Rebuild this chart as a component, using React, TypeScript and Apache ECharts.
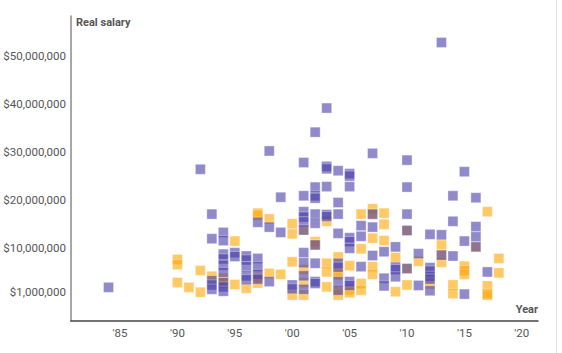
import React, { useEffect, useRef } from "react";
import * as echarts from "echarts";

// [year, real salary in millions of dollars]
const purplePoints: [number, number][] = [
  [1984, 1.9],
  [1992, 26.4],
  [1993, 17.1], [1993, 12.0], [1993, 3.3], [1993, 2.4], [1993, 1.5],
  [1994, 13.3], [1994, 11.6], [1994, 8.8], [1994, 7.8], [1994, 6.5], [1994, 5.0], [1994, 2.9], [1994, 2.0], [1994, 1.1],
  [1995, 9.1], [1995, 8.3],
  [1996, 8.4], [1996, 7.6], [1996, 6.2], [1996, 4.3], [1996, 3.5],
  [1997, 15.4], [1997, 7.9], [1997, 6.2], [1997, 4.6], [1997, 3.6],
  [1998, 30.2], [1998, 14.4], [1998, 3.1],
  [1999, 20.6], [1999, 13.3],
  [2000, 2.4], [2000, 1.6],
  [2001, 27.8], [2001, 20.9], [2001, 17.6], [2001, 16.5], [2001, 15.5], [2001, 13.8], [2001, 9.1], [2001, 7.0], [2001, 4.3], [2001, 1.5],
  [2002, 34.1], [2002, 22.7], [2002, 20.9], [2002, 20.4], [2002, 17.1], [2002, 15.2], [2002, 10.7], [2002, 6.9], [2002, 3.1], [2002, 2.7],
  [2003, 39.1], [2003, 27.0], [2003, 26.5], [2003, 22.8], [2003, 17.0], [2003, 16.6],
  [2004, 26.1], [2004, 19.5], [2004, 17.1], [2004, 13.1], [2004, 6.9], [2004, 6.1], [2004, 3.1], [2004, 1.3],
  [2005, 25.5], [2005, 25.0], [2005, 22.8], [2005, 12.2], [2005, 11.4], [2005, 10.0], [2005, 3.1], [2005, 2.3],
  [2006, 14.7], [2006, 12.5], [2006, 6.2],
  [2007, 29.7], [2007, 17.1], [2007, 14.4], [2007, 8.5],
  [2008, 9.3], [2008, 3.8], [2008, 2.2],
  [2009, 10.3], [2009, 6.1], [2009, 5.6], [2009, 4.1],
  [2010, 28.3], [2010, 22.7], [2010, 17.1], [2010, 13.7], [2010, 5.8],
  [2011, 8.9], [2011, 2.3],
  [2012, 12.9], [2012, 6.0], [2012, 5.3], [2012, 4.2], [2012, 3.6], [2012, 1.2],
  [2013, 52.7], [2013, 12.8], [2013, 8.6],
  [2014, 20.9], [2014, 15.6], [2014, 8.4],
  [2015, 25.9], [2015, 11.5], [2015, 0.5],
  [2016, 20.5], [2016, 14.5], [2016, 12.4], [2016, 10.3],
  [2017, 5.1],
];

const orangePoints: [number, number][] = [
  [1990, 7.7], [1990, 6.6], [1990, 2.9],
  [1991, 1.9],
  [1992, 5.4], [1992, 0.9],
  [1993, 4.2],
  [1994, 3.8], [1994, 2.9],
  [1995, 11.5], [1995, 2.5],
  [1996, 1.7],
  [1997, 17.3], [1997, 16.9], [1997, 4.0], [1997, 2.8],
  [1998, 16.1], [1998, 4.8],
  [1999, 4.6],
  [2000, 15.1], [2000, 13.0], [2000, 7.2], [2000, 0.3],
  [2001, 13.8], [2001, 5.6], [2001, 2.9], [2001, 0.3],
  [2002, 11.4], [2002, 10.7],
  [2003, 15.6], [2003, 6.9], [2003, 5.1], [2003, 2.0],
  [2004, 8.2], [2004, 5.1], [2004, 4.5], [2004, 1.3], [2004, 0.3],
  [2005, 6.4], [2005, 1.4], [2005, 0.8],
  [2006, 17.1], [2006, 9.9], [2006, 2.7], [2006, 1.3],
  [2007, 18.2], [2007, 17.0], [2007, 12.1], [2007, 6.2], [2007, 4.6],
  [2008, 17.3], [2008, 15.0], [2008, 11.6],
  [2009, 8.1], [2009, 1.0],
  [2010, 13.7], [2010, 5.8], [2010, 2.4],
  [2011, 7.3],
  [2012, 2.6],
  [2013, 10.7], [2013, 8.6], [2013, 7.1],
  [2014, 2.4], [2014, 0.6],
  [2015, 6.3], [2015, 5.4], [2015, 4.6],
  [2016, 10.3],
  [2017, 17.6], [2017, 2.2], [2017, 0.6], [2017, 0.3],
  [2018, 7.9], [2018, 4.9],
];

const xTickYears = [1985, 1990, 1995, 2000, 2005, 2010, 2015, 2020];
const yTickValues = [1000000, 10000000, 20000000, 30000000, 40000000, 50000000];

const toDollars = (pts: [number, number][]) => pts.map(([y, v]) => [y, v * 1000000]);

export default function App() {
  const ref = useRef<HTMLDivElement>(null);
  useEffect(() => {
    const chart = echarts.init(ref.current!, null, { renderer: "svg" });
    const font = "Roboto, 'Noto Sans', sans-serif";
    chart.setOption({
      animation: false,
      textStyle: { fontFamily: font },
      grid: { left: 71, right: 24, top: 16, bottom: 32 },
      xAxis: {
        type: "value",
        min: 1980.73,
        max: 2021.41,
        splitLine: { show: false },
        axisTick: { show: false },
        axisLine: { show: true, onZero: false, lineStyle: { color: "#444", width: 1.5 } },
        axisLabel: {
          customValues: xTickYears,
          margin: 6,
          color: "#555",
          fontSize: 11.5,
          fontFamily: font,
          formatter: (v: number) => "'" + String(Math.round(v)).slice(2),
        },
      },
      yAxis: {
        type: "value",
        min: -5080000,
        max: 58200000,
        splitLine: { show: false },
        axisTick: { show: false },
        axisLine: { show: true, onZero: false, lineStyle: { color: "#888", width: 1.5 } },
        axisLabel: {
          customValues: yTickValues,
          margin: 5,
          color: "#555",
          fontSize: 11.5,
          fontFamily: font,
          formatter: (v: number) => "$" + Math.round(v).toLocaleString("en-US"),
        },
      },
      graphic: [
        {
          type: "text",
          left: 76,
          top: 17,
          style: { text: "Real salary", font: `bold 11px ${font}`, fill: "#555" },
        },
        {
          type: "text",
          right: 24,
          top: 304,
          style: { text: "Year", font: `bold 11px ${font}`, fill: "#555" },
        },
        {
          type: "line",
          shape: { x1: 556.5, y1: 0, x2: 556.5, y2: 353 },
          style: { stroke: "#e4e4e4", lineWidth: 1 },
        },
      ],
      series: [
        {
          type: "scatter",
          name: "orange",
          symbol: "rect",
          symbolSize: 10,
          data: toDollars(orangePoints),
          itemStyle: {
            color: "rgba(255,165,0,0.75)",
            borderColor: "rgba(255,255,255,0.4)",
            borderWidth: 1,
          },
        },
        {
          type: "scatter",
          name: "purple",
          symbol: "rect",
          symbolSize: 10,
          data: toDollars(purplePoints),
          itemStyle: {
            color: "rgba(68,58,168,0.74)",
            borderColor: "rgba(255,255,255,0.4)",
            borderWidth: 1,
          },
        },
      ],
    });
    return () => chart.dispose();
  }, []);
  return (
    <div
      ref={ref}
      style={{ position: "absolute", left: 0, top: 0, width: 562, height: 353, background: "#fff" }}
    />
  );
}
